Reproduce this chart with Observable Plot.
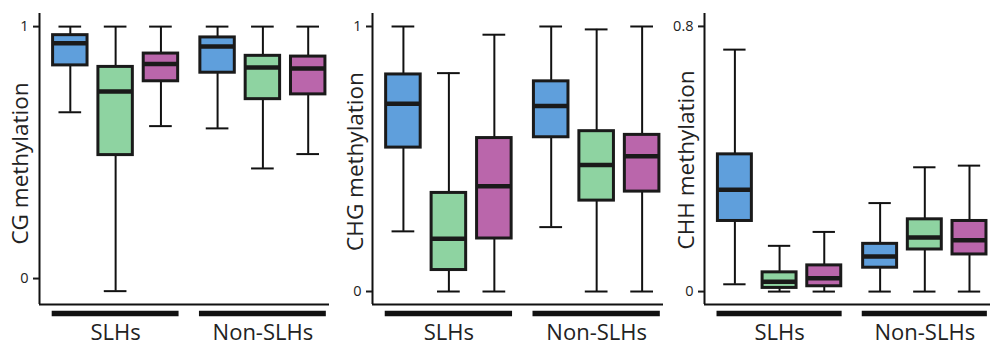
<!DOCTYPE html>
<html>
<head>
<meta charset="utf-8">
<script src="https://cdn.jsdelivr.net/npm/d3@7"></script>
<script src="https://cdn.jsdelivr.net/npm/@observablehq/plot@0.6"></script>
<style>
  html, body { margin: 0; padding: 0; background: #fff; }
  #wrap { position: relative; width: 998px; height: 346px; overflow: hidden; background: #fff; }
  .panel { position: absolute; top: 0; }
</style>
</head>
<body>
<div id="wrap"></div>
<script>
// ---- data ----
const groups = ["SLHs", "Non-SLHs"];
const types = ["Type A", "Type B", "Type C"];

// order: SLHs (A,B,C), Non-SLHs (A,B,C)
const cgMin = [0.66, -0.05, 0.605, 0.596, 0.437, 0.494];
const cgQ1  = [0.846, 0.49, 0.783, 0.817, 0.712, 0.731];
const cgMed = [0.934, 0.742, 0.852, 0.921, 0.838, 0.834];
const cgQ3  = [0.966, 0.84, 0.893, 0.957, 0.884, 0.881];
const cgMax = [1, 1, 1, 1, 1, 1];

const chgMin = [0.227, 0, 0, 0.243, 0, 0];
const chgQ1  = [0.543, 0.081, 0.2, 0.582, 0.343, 0.377];
const chgMed = [0.708, 0.199, 0.397, 0.7, 0.477, 0.51];
const chgQ3  = [0.819, 0.372, 0.579, 0.793, 0.605, 0.591];
const chgMax = [1, 0.824, 0.969, 1, 0.989, 1];

const chhMin = [0.022, 0, 0, 0, 0, 0];
const chhQ1  = [0.213, 0.011, 0.016, 0.072, 0.127, 0.112];
const chhMed = [0.307, 0.03, 0.04, 0.106, 0.163, 0.155];
const chhQ3  = [0.414, 0.058, 0.079, 0.144, 0.218, 0.213];
const chhMax = [0.73, 0.138, 0.18, 0.267, 0.375, 0.38];

const yTicksCG = [0, 1];
const yTicksCHG = [0, 1];
const yTicksCHH = [0, 0.8];

// ---- build tables ----
function buildRows(mins, q1s, meds, q3s, maxs) {
  const rows = [];
  groups.forEach((g, gi) => types.forEach((t, ti) => {
    const i = gi * types.length + ti;
    rows.push({group: g, type: t, gi, ti, min: mins[i], q1: q1s[i], med: meds[i], q3: q3s[i], max: maxs[i]});
  }));
  return rows;
}

const GAP = 3.25;
const xDomain = [-0.68, 5.72];
const pos = d => d.gi * GAP + d.ti;
const BW = 0.38, CW = 0.25;

function panel({rows, yDomain, yTicks, label, width, marginLeft, marginRight, labelDx, labelDy}) {
  const y0 = yDomain[0];
  const groupRows = groups.map((g, gi) => ({g, x1: gi * GAP - 0.4, x2: gi * GAP + (types.length - 1) + 0.4, xc: gi * GAP + (types.length - 1) / 2}));
  return Plot.plot({
    width, height: 346,
    marginTop: 13, marginBottom: 42, marginLeft, marginRight,
    x: {domain: xDomain, axis: null},
    y: {domain: yDomain},
    color: {domain: types, range: ["#5f9fdc", "#8ed3a1", "#ba66ab"]},
    style: {fontFamily: "'Open Sans', sans-serif", fontSize: "14px", background: "transparent", overflow: "visible", color: "#1a1a1a"},
    marks: [
      Plot.ruleX(rows, {x: pos, y1: "q3", y2: "max", stroke: "#111", strokeWidth: 2}),
      Plot.ruleX(rows, {x: pos, y1: "min", y2: "q1", stroke: "#111", strokeWidth: 2}),
      Plot.ruleY(rows, {y: "max", x1: d => pos(d) - CW, x2: d => pos(d) + CW, stroke: "#111", strokeWidth: 2}),
      Plot.ruleY(rows, {y: "min", x1: d => pos(d) - CW, x2: d => pos(d) + CW, stroke: "#111", strokeWidth: 2}),
      Plot.rect(rows, {x1: d => pos(d) - BW, x2: d => pos(d) + BW, y1: "q1", y2: "q3", fill: "type", stroke: "#1a1a1a", strokeWidth: 3}),
      Plot.ruleY(rows, {y: "med", x1: d => pos(d) - BW, x2: d => pos(d) + BW, stroke: "#1a1a1a", strokeWidth: 4.5}),
      Plot.ruleX([xDomain[0]], {stroke: "#111", strokeWidth: 2}),
      Plot.ruleY([y0], {stroke: "#111", strokeWidth: 2}),
      Plot.axisY({ticks: yTicks, tickFormat: () => "", tickSize: 6, label: null, strokeWidth: 2}),
      Plot.text(yTicks, {y: d => d, text: d => `${d}`, frameAnchor: "left", textAnchor: "end", lineAnchor: "middle", dx: -11, fontSize: 14.5, fill: "#222"}),
      Plot.text([label], {text: d => d, frameAnchor: "left", textAnchor: "middle", rotate: -90, dx: labelDx, dy: labelDy, fontSize: 22.5, lineAnchor: "middle", fill: "#222"}),
      Plot.ruleY(groupRows, {y: () => y0, x1: "x1", x2: "x2", dy: 9, stroke: "#111", strokeWidth: 5.5}),
      Plot.text(groupRows, {x: "xc", y: () => y0, text: "g", dy: 28.5, fontSize: 22, lineAnchor: "middle", fill: "#222"})
    ]
  });
}

const specs = [
  {left: 0, rows: buildRows(cgMin, cgQ1, cgMed, cgQ3, cgMax), yDomain: [-0.103, 1.052], yTicks: yTicksCG, label: "CG methylation", width: 332, marginLeft: 39, marginRight: 3, labelDx: -19.2, labelDy: 4.5},
  {left: 330, rows: buildRows(chgMin, chgQ1, chgMed, chgQ3, chgMax), yDomain: [-0.049, 1.049], yTicks: yTicksCHG, label: "CHG methylation", width: 335, marginLeft: 42, marginRight: 2, labelDx: -17.2, labelDy: 2.5},
  {left: 660, rows: buildRows(chhMin, chhQ1, chhMed, chhQ3, chhMax), yDomain: [-0.039, 0.839], yTicks: yTicksCHH, label: "CHH methylation", width: 338, marginLeft: 44, marginRight: 8, labelDx: -18.2, labelDy: 1}
];

const wrap = document.getElementById("wrap");
for (const s of specs) {
  const div = document.createElement("div");
  div.className = "panel";
  div.style.left = s.left + "px";
  div.appendChild(panel(s));
  wrap.appendChild(div);
}
</script>
</body>
</html>
